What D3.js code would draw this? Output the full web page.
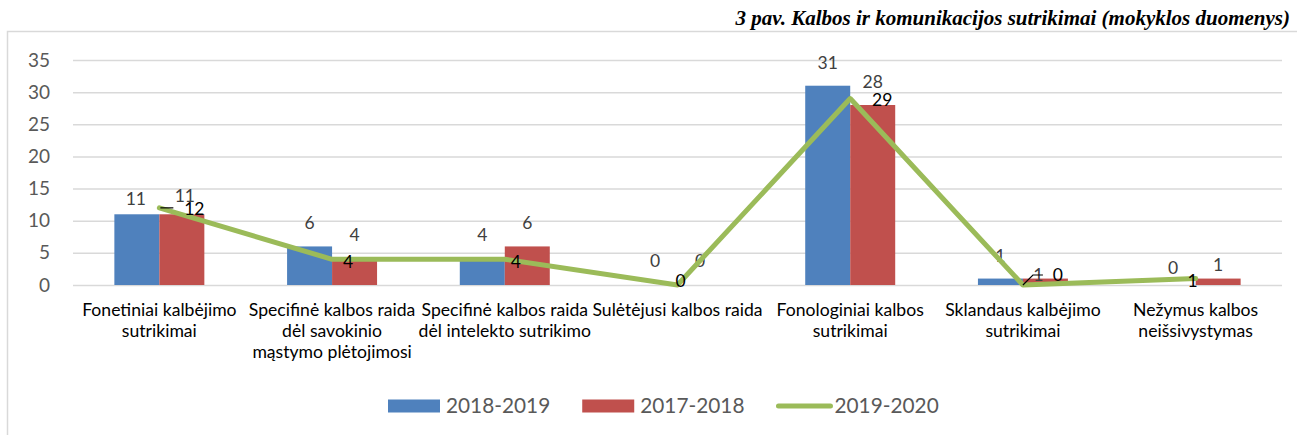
<!DOCTYPE html>
<html><head><meta charset="utf-8">
<script src="https://cdn.jsdelivr.net/npm/d3@7"></script>
<style>body{margin:0;background:#fff} svg{display:block}</style>
</head><body><svg id="c" width="1297" height="435"></svg>
<script>
// ---- data ----
const categories = [
  "Fonetiniai kalbėjimo\nsutrikimai",
  "Specifinė kalbos raida\ndėl savokinio\nmąstymo plėtojimosi",
  "Specifinė kalbos raida\ndėl intelekto sutrikimo",
  "Sulėtėjusi kalbos raida",
  "Fonologiniai kalbos\nsutrikimai",
  "Sklandaus kalbėjimo\nsutrikimai",
  "Nežymus kalbos\nneišsivystymas"
];
const seriesNames = ["2018-2019", "2017-2018", "2019-2020"];
const values2018_2019 = [11, 6, 4, 0, 31, 1, 0];
const values2017_2018 = [11, 4, 6, 0, 28, 1, 1];
const values2019_2020 = [12, 4, 4, 0, 29, 0, 1];
const yTicks = [0, 5, 10, 15, 20, 25, 30, 35];
const titleText = "3 pav. Kalbos ir komunikacijos sutrikimai (mokyklos duomenys)";

// ---- label placement tweaks (layout, not data) ----
const blueLabelShift = [[-1,-15],[0,-24],[0,-24],[0,-24],[0,-23],[0,-23],[0,-17]];
const redLabelShift  = [[3,-18],[0,-24],[0,-24],[0,-24],[0,-23],[-7,-4],[0,-14]];
const lineLabelShift = [[35,1],[16,3],[11,3],[3,-4],[32,1],[35,-10],[-3,2]];
const leaders = {0: [[1,0],[14,0]], 5: [[0,0],[10,-10],[20,-10]]};

const colors = {blue: "#4F81BD", red: "#C0504D", green: "#9BBB59"};
const FONT = "Lato, 'Open Sans', sans-serif";

const svg = d3.select("#c");
const W = 1297, H = 435;
const plot = {left: 73, right: 1282, top: 60, bottom: 285};

// frame
svg.append("path").attr("d", `M7.5,${H} V31.5 H${W}`)
  .attr("fill", "none").attr("stroke", "#d9d9d9").attr("stroke-width", 1.5);

// title
svg.append("text").attr("x", 1290).attr("y", 25).attr("text-anchor", "end")
  .attr("font-family", "'Liberation Serif', 'Times New Roman', serif")
  .attr("font-weight", "bold").attr("font-style", "italic").attr("font-size", 21)
  .attr("fill", "#000").text(titleText);

const idx = d3.range(categories.length);
const x = d3.scaleBand().domain(idx).range([plot.left, plot.right]).padding(0);
const groupW = x.bandwidth() * 0.521;
const x1 = d3.scaleBand().domain([0, 1]).range([0, groupW]);
const y = d3.scaleLinear().domain([0, 35]).range([plot.bottom, plot.top]);

// y axis + gridlines
const yAxis = svg.append("g").attr("transform", `translate(${plot.left},0)`)
  .call(d3.axisLeft(y).tickValues(yTicks).tickSize(-(plot.right - plot.left)).tickPadding(23));
yAxis.select(".domain").remove();
yAxis.selectAll(".tick line").attr("stroke", "#d9d9d9").attr("stroke-width", 1.5);
yAxis.selectAll(".tick text").attr("font-family", FONT).attr("font-size", 19).attr("fill", "#595959");

// x axis labels
const xAxis = svg.append("g").attr("transform", `translate(0,${plot.bottom})`)
  .call(d3.axisBottom(x).tickSize(0).tickFormat(""));
xAxis.select(".domain").remove();
xAxis.selectAll(".tick").each(function(d) {
  const t = d3.select(this).select("text")
    .attr("font-family", FONT).attr("font-size", 17.6).attr("fill", "#000")
    .attr("y", 0).attr("dy", null);
  categories[d].split("\n").forEach((line, i) => {
    t.append("tspan").attr("x", 0).attr("y", 31 + i * 21).text(line);
  });
});

// bars
const barSeries = [
  {vals: values2018_2019, color: colors.blue, shift: blueLabelShift, k: 0},
  {vals: values2017_2018, color: colors.red, shift: redLabelShift, k: 1}
];
const bx = (i, k) => x(i) + (x.bandwidth() - groupW) / 2 + x1(k);
barSeries.forEach(s => {
  svg.append("g").selectAll("rect").data(s.vals).join("rect")
    .attr("x", (d, i) => bx(i, s.k)).attr("width", x1.bandwidth())
    .attr("y", d => y(d)).attr("height", d => y(0) - y(d))
    .attr("fill", s.color);
});
barSeries.forEach(s => {
  svg.append("g").selectAll("text").data(s.vals).join("text")
    .attr("x", (d, i) => bx(i, s.k) + x1.bandwidth() / 2 + s.shift[i][0])
    .attr("y", (d, i) => y(d) + s.shift[i][1])
    .attr("dy", "0.35em").attr("text-anchor", "middle")
    .attr("font-family", FONT).attr("font-size", 17.5).attr("fill", "#404040")
    .text(d => d);
});

// line
const cx = i => x(i) + x.bandwidth() / 2;
svg.append("path").datum(values2019_2020)
  .attr("d", d3.line().x((d, i) => cx(i)).y(d => y(d)))
  .attr("fill", "none").attr("stroke", colors.green).attr("stroke-width", 5)
  .attr("stroke-linejoin", "round").attr("stroke-linecap", "round");

// leaders
Object.entries(leaders).forEach(([i, pts]) => {
  i = +i;
  svg.append("path")
    .attr("d", d3.line()(pts.map(p => [cx(i) + p[0], y(values2019_2020[i]) + p[1]])))
    .attr("fill", "none").attr("stroke", "#000").attr("stroke-width", 1.2);
});
svg.append("g").selectAll("text").data(values2019_2020).join("text")
  .attr("x", (d, i) => cx(i) + lineLabelShift[i][0])
  .attr("y", (d, i) => y(d) + lineLabelShift[i][1])
  .attr("dy", "0.35em").attr("text-anchor", "middle")
  .attr("font-family", FONT).attr("font-size", 17.5).attr("fill", "#000")
  .text(d => d);

// legend
const lg = svg.append("g").attr("transform", "translate(388,406)");
let off = 0;
seriesNames.forEach((name, i) => {
  const g = lg.append("g").attr("transform", `translate(${off},0)`);
  if (i < 2) {
    g.append("rect").attr("x", 0).attr("y", -6.5).attr("width", 52).attr("height", 13)
      .attr("fill", i === 0 ? colors.blue : colors.red);
  } else {
    g.append("line").attr("x1", 2).attr("x2", 54).attr("y1", 0).attr("y2", 0)
      .attr("stroke", colors.green).attr("stroke-width", 5).attr("stroke-linecap", "round");
  }
  const t = g.append("text").attr("x", 58).attr("y", 0).attr("dy", "0.35em")
    .attr("font-family", FONT).attr("font-size", 20.8).attr("fill", "#595959").text(name);
  off += 58 + t.node().getComputedTextLength() + 32;
});
</script></body></html>
